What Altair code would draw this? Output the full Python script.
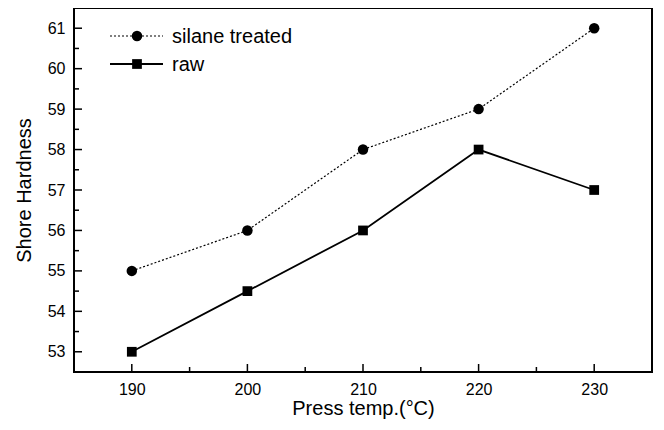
import altair as alt
import pandas as pd

temps = [190, 200, 210, 220, 230]
silane = [55, 56, 58, 59, 61]
raw = [53, 54.5, 56, 58, 57]
series_names = ["silane treated", "raw"]

x_major = [190, 200, 210, 220, 230]
x_minor = [195, 205, 215, 225]
y_major = [53, 54, 55, 56, 57, 58, 59, 60, 61]
y_minor = [53.5, 54.5, 55.5, 56.5, 57.5, 58.5, 59.5, 60.5]

FONT = "Liberation Sans"
W, H = 578, 364

df = pd.DataFrame({
    "temp": temps * 2,
    "hardness": silane + raw,
    "series": [series_names[0]] * len(temps) + [series_names[1]] * len(temps),
})

xs = alt.Scale(domain=[185, 235], nice=False, zero=False)
ys = alt.Scale(domain=[52.5, 61.5], nice=False, zero=False)

xaxis = alt.Axis(values=x_major, ticks=False, domain=False, grid=False,
                 labelFont=FONT, labelFontSize=16, labelColor="black", labelPadding=9,
                 title="Press temp.(°C)", titleFont=FONT, titleFontSize=20,
                 titleFontWeight="normal", titleColor="black", titlePadding=1)
yaxis = alt.Axis(values=y_major, ticks=False, domain=False, grid=False,
                 labelFont=FONT, labelFontSize=16, labelColor="black", labelPadding=9,
                 title="Shore Hardness", titleFont=FONT, titleFontSize=20,
                 titleFontWeight="normal", titleColor="black", titlePadding=13)

base = alt.Chart(df)

line_silane = base.transform_filter(alt.datum.series == series_names[0]).mark_line(
    color="black", strokeWidth=1.2, strokeDash=[2, 2]
).encode(x=alt.X("temp:Q", scale=xs, axis=xaxis), y=alt.Y("hardness:Q", scale=ys, axis=yaxis))

line_raw = base.transform_filter(alt.datum.series == series_names[1]).mark_line(
    color="black", strokeWidth=1.8
).encode(x=alt.X("temp:Q", scale=xs), y=alt.Y("hardness:Q", scale=ys))

pts_silane = base.transform_filter(alt.datum.series == series_names[0]).mark_point(
    shape="circle", filled=True, color="black", size=110, opacity=1
).encode(x=alt.X("temp:Q", scale=xs), y=alt.Y("hardness:Q", scale=ys))

pts_raw = base.transform_filter(alt.datum.series == series_names[1]).mark_point(
    shape="square", filled=True, color="black", size=95, opacity=1
).encode(x=alt.X("temp:Q", scale=xs), y=alt.Y("hardness:Q", scale=ys))

# inward ticks
xt_major = alt.Chart(pd.DataFrame({"v": x_major})).mark_rule(color="black", strokeWidth=1.5).encode(
    x=alt.X("v:Q", scale=xs), y=alt.value(H), y2=alt.value(H - 8))
xt_minor = alt.Chart(pd.DataFrame({"v": x_minor})).mark_rule(color="black", strokeWidth=1.5).encode(
    x=alt.X("v:Q", scale=xs), y=alt.value(H), y2=alt.value(H - 5))
yt_major = alt.Chart(pd.DataFrame({"v": y_major})).mark_rule(color="black", strokeWidth=1.5).encode(
    y=alt.Y("v:Q", scale=ys), x=alt.value(0), x2=alt.value(8))
yt_minor = alt.Chart(pd.DataFrame({"v": y_minor})).mark_rule(color="black", strokeWidth=1.5).encode(
    y=alt.Y("v:Q", scale=ys), x=alt.value(0), x2=alt.value(5))

# legend
leg = alt.Chart(pd.DataFrame({"label": series_names}))
leg_l1 = leg.transform_filter(alt.datum.label == series_names[0]).mark_rule(
    color="black", strokeWidth=1.2, strokeDash=[2, 2]).encode(
    x=alt.value(36), x2=alt.value(89), y=alt.value(28))
leg_l2 = leg.transform_filter(alt.datum.label == series_names[1]).mark_rule(
    color="black", strokeWidth=1.8).encode(
    x=alt.value(36), x2=alt.value(89), y=alt.value(56))
leg_p1 = leg.transform_filter(alt.datum.label == series_names[0]).mark_point(
    shape="circle", filled=True, color="black", size=110, opacity=1).encode(
    x=alt.value(63), y=alt.value(28))
leg_p2 = leg.transform_filter(alt.datum.label == series_names[1]).mark_point(
    shape="square", filled=True, color="black", size=95, opacity=1).encode(
    x=alt.value(63), y=alt.value(56))
leg_t1 = leg.transform_filter(alt.datum.label == series_names[0]).mark_text(
    align="left", baseline="middle", font=FONT, fontSize=20, color="black").encode(
    x=alt.value(98), y=alt.value(29), text="label:N")
leg_t2 = leg.transform_filter(alt.datum.label == series_names[1]).mark_text(
    align="left", baseline="middle", font=FONT, fontSize=20, color="black").encode(
    x=alt.value(98), y=alt.value(57), text="label:N")

chart = alt.layer(
    line_silane, line_raw, pts_silane, pts_raw,
    xt_major, xt_minor, yt_major, yt_minor,
    leg_l1, leg_l2, leg_p1, leg_p2, leg_t1, leg_t2,
).properties(
    width=W, height=H,
    autosize=alt.AutoSizeParams(type="none"),
    padding={"left": 66, "top": 0, "right": 4, "bottom": 50},
    background="white",
).configure_view(
    stroke="black", strokeWidth=2
)

chart.save("out.html", embed_options={"renderer": "svg", "actions": False})
